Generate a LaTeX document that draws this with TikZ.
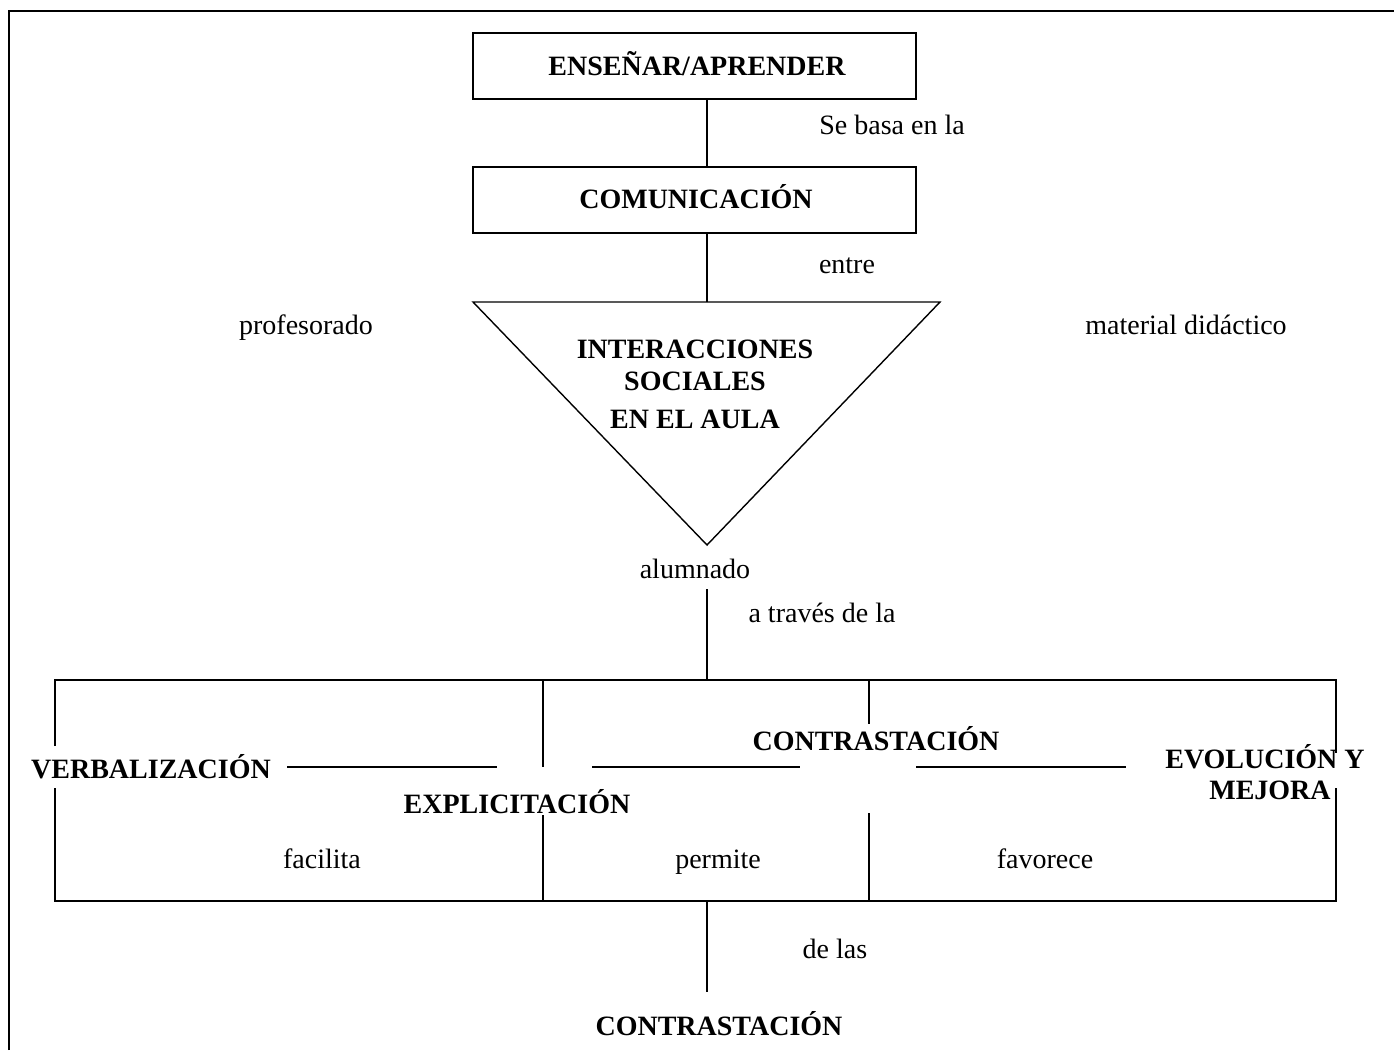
\documentclass[tikz,border=0pt]{standalone}
\usepackage{fontspec}
\setmainfont{Liberation Serif}
\begin{document}
\begin{tikzpicture}[x=1pt,y=-1pt,
  ln/.style={line width=1.4pt},
  framel/.style={line width=2.2pt},
  lbl/.style={anchor=base,inner sep=0pt,font=\fontsize{28}{32}\selectfont},
  hd/.style={anchor=base,inner sep=0pt,font=\fontsize{28}{32}\selectfont\bfseries},
  boxn/.style={draw,line width=1.4pt,minimum width=443pt,minimum height=66pt,inner sep=0pt}]
\useasboundingbox (0,0) rectangle (1394,1050);
% page frame
\coordinate (fbl) at (9,1050);
\coordinate (ftl) at (9,11);
\coordinate (ftr) at (1394,11);
\draw[framel] (fbl) -- (ftl) -- (ftr);
% axis
\coordinate (ax) at (707,0);
% top boxes
\node[boxn] (b1) at (694.5,66) {};
\node[hd] (t1) at (697,75) {ENSEÑAR/APRENDER};
\node[boxn] (b2) at (694.5,200) {};
\node[hd] (t2) at (696,208) {COMUNICACIÓN};
\node[lbl] (l1) at (892,134) {Se basa en la};
\node[lbl] (l2) at (847,273) {entre};
\draw[ln] (b1.south -| ax) -- (b2.north -| ax);
% triangle
\coordinate (tl) at (473,302);
\coordinate (tr) at (940,302);
\coordinate (tp) at (707,545);
\coordinate (ttop) at (707,302);
\draw[ln,line join=miter] (tl) -- (tr) -- (tp) -- cycle;
\draw[ln] (b2.south -| ax) -- (ttop);
\node[hd] (i1) at (695,358) {INTERACCIONES};
\node[hd] (i2) at (695,390) {SOCIALES};
\node[hd] (i3) at (695,428) {EN EL AULA};
\node[lbl] (prof) at (306,334) {profesorado};
\node[lbl] (mat) at (1186,334) {material didáctico};
\node[lbl] (alum) at (695,578) {alumnado};
\node[lbl] (trav) at (822,622) {a través de la};
\coordinate (c1) at (707,589);
\coordinate (bt) at (707,680);
\draw[ln] (c1) -- (bt);
% big box
\coordinate (bl1) at (55,746);
\coordinate (bl0) at (55,680);
\coordinate (br0) at (1336,680);
\coordinate (br1) at (1336,753);
\coordinate (br2) at (1336,788);
\coordinate (br3) at (1336,901);
\coordinate (bl3) at (55,901);
\coordinate (bl2) at (55,788);
\draw[ln] (bl1) -- (bl0) -- (br0) -- (br1);
\draw[ln] (br2) -- (br3) -- (bl3) -- (bl2);
\coordinate (v1a) at (543,680);
\coordinate (v1b) at (543,767);
\coordinate (v1c) at (543,815);
\coordinate (v1d) at (543,901);
\coordinate (v2a) at (869,680);
\coordinate (v2b) at (869,724);
\coordinate (v2c) at (869,813);
\coordinate (v2d) at (869,901);
\draw[ln] (v1a) -- (v1b);
\draw[ln] (v1c) -- (v1d);
\draw[ln] (v2a) -- (v2b);
\draw[ln] (v2c) -- (v2d);
\node[hd] (verb) at (151,778) {VERBALIZACIÓN};
\node[hd] (expl) at (517,813) {EXPLICITACIÓN};
\node[hd] (cont1) at (876,750) {CONTRASTACIÓN};
\node[hd] (evo1) at (1265,768) {EVOLUCIÓN Y};
\node[hd] (evo2) at (1270,799) {MEJORA};
\coordinate (h1a) at (287,767);
\coordinate (h1b) at (497,767);
\coordinate (h2a) at (592,767);
\coordinate (h2b) at (800,767);
\coordinate (h3a) at (916,767);
\coordinate (h3b) at (1126,767);
\draw[ln] (h1a) -- (h1b);
\draw[ln] (h2a) -- (h2b);
\draw[ln] (h3a) -- (h3b);
\node[lbl] (fac) at (322,868) {facilita};
\node[lbl] (perm) at (718,868) {permite};
\node[lbl] (fav) at (1045,868) {favorece};
% bottom
\coordinate (bb) at (707,901);
\coordinate (be) at (707,992);
\draw[ln] (bb) -- (be);
\node[lbl] (dl) at (835,958) {de las};
\node[hd] (cont2) at (719,1035) {CONTRASTACIÓN};
\end{tikzpicture}
\end{document}
